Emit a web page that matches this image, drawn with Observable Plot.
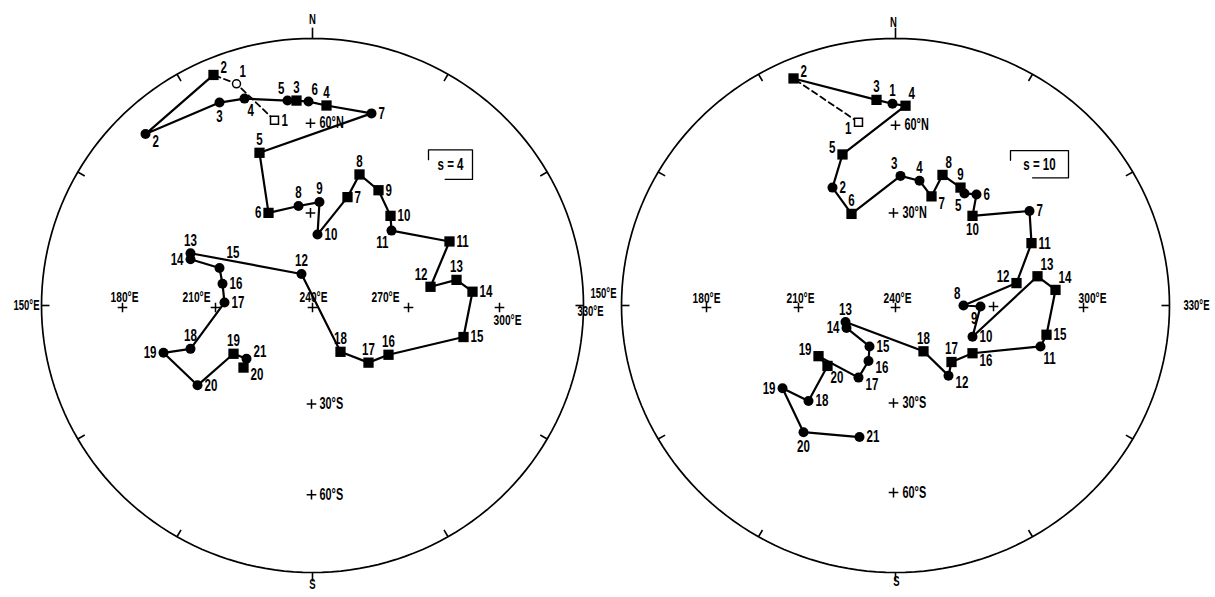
<!DOCTYPE html>
<html><head><meta charset="utf-8">
<script src="https://cdn.jsdelivr.net/npm/d3@7"></script>
<script src="https://cdn.jsdelivr.net/npm/@observablehq/plot@0.6"></script>
<style>
body{margin:0;background:#fff;}
#wrap{position:relative;width:1215px;height:597px;overflow:hidden;}
#wrap svg{position:absolute;left:0;top:0;}
</style></head><body><div id="wrap"></div>
<script>
// Net-plane coordinates of the poles (units ≈ px of the primitive circle, origin at net centre, north up)
// ---- left net (s = 4) ----
const leftShape = ["sq","ci","sq","ci","ci","ci","ci","sq","ci","sq","ci","sq","sq","ci","ci","ci","sq","sq","sq","sq","ci","sq","sq","sq","sq","sq","sq","sq","sq","ci","ci","ci","ci","ci","ci","ci","ci","ci","sq","ci","sq"];
const leftOpen  = [1,1,0,0,0,0,0,0,0,0,0,0,0,0,0,0,0,0,0,0,0,0,0,0,0,0,0,0,0,0,0,0,0,0,0,0,0,0,0,0,0];
const leftLabel = ["1","1","2","2","3","4","5","3","6","4","7","5","6","8","9","10","7","8","9","10","11","11","12","13","14","15","16","17","18","12","13","14","15","16","17","18","19","20","19","21","20"];
const leftPos   = ["e","ne","en","es","s","se","nw","n","ne","n","e","n","w","n","n","e","e","n","e","e","sw","e","nw","n","e","e","n","n","n","n","n","w","ne2","e","e","n","w","e","n","en","es"];
const leftU = [-38,-76,-99,-167,-93,-68,-25,-16,-4,14,59,-53,-44,-14,7,5,35,47,66,78,79,137,118,144,160,151,76,56,28,-11,-122,-122,-93,-90,-88,-122,-149,-115,-79,-66,-69];
const leftV = [188,225,234,174,206,210,208,208,207,203,195,155,94,101,105,72,110,133,117,91,76,65,19,26,14,-32,-50,-58,-47,32,53,47,38,22,3,-44,-48,-81,-49,-54,-63];
const leftDashedCount = 3;   // first points joined by a dashed line
const leftGridU = [-190,-97,0,96,187,-2,-2,-1,-1];
const leftGridV = [-2,-2,-2,-2,-2,185,94,-100,-192];
const leftLonText = ["180°E","210°E","240°E","270°E","300°E"];
const leftLonU = [-188,-116,1,73,195];
const leftLonV = [8,8,8,8,-15];
const leftLatText = ["60°N","30°S","60°S"];
const leftLatU = [7,7,7];
const leftLatV = [185,-100,-192];
const leftEdgeText = ["150°E","330°E","N","S"];
const leftEdgeU = [-286,278,0,0];
const leftEdgeV = [0,-6,290,-283];
const leftBox = {text:"s = 4", u1:116, u2:160, v1:128, v2:158};

// ---- right net (s = 10) ----
const rightShape = ["sq","sq","sq","ci","sq","sq","ci","sq","ci","ci","sq","sq","sq","ci","ci","sq","ci","sq","sq","ci","ci","ci","sq","sq","sq","ci","sq","sq","ci","sq","ci","ci","ci","ci","ci","sq","sq","ci","ci","ci","ci"];
const rightOpen  = [1,0,0,0,0,0,0,0,0,0,0,0,0,0,0,0,0,0,0,0,0,0,0,0,0,0,0,0,0,0,0,0,0,0,0,0,0,0,0,0,0];
const rightLabel = ["1","2","3","1","4","5","2","6","3","4","7","8","9","5","6","10","7","11","12","8","9","10","13","14","15","11","16","17","12","18","13","14","15","16","17","19","20","18","19","20","21"];
const rightPos   = ["ws","en","n","n","ne","wn","e","n","nw","n","es","ne","n","sw","e","s","e","e","wn","nw","sw","e","ne","ne","e","se","es","n","es","n","n","w","e","es","es","wn","se","e","w","s","e"];
const rightU = [-37,-102,-19,-3,10,-53,-63,-44,5,24,36,47,65,69,81,77,134,136,121,68,85,77,142,160,151,145,77,56,53,28,-50,-49,-26,-27,-37,-77,-68,-87,-113,-92,-36];
const rightV = [188,233,211,207,205,155,121,94,133,128,112,134,121,115,114,92,97,64,23,0,-1,-32,30,16,-30,-42,-49,-58,-72,-47,-17,-23,-42,-57,-74,-52,-62,-98,-85,-130,-135];
const rightDashedCount = 2;
const rightGridU = [-189,-97,0,98,188,0,-2,-2,-2];
const rightGridV = [-2,-2,-2,-1,-2,185,95,-100,-192];
const rightLonText = ["180°E","210°E","240°E","300°E"];
const rightLonU = [-189,-95,2,197];
const rightLonV = [8,8,8,8];
const rightLatText = ["60°N","30°N","30°S","60°S"];
const rightLatU = [9,7,7,7];
const rightLatV = [185,95,-100,-192];
const rightEdgeText = ["150°E","330°E","N","S"];
const rightEdgeU = [-292,301,-2,1];
const rightEdgeV = [12,0,290,-283];
const rightBox = {text:"s = 10", u1:115, u2:173, v1:131, v2:159};

const FONT = "'Liberation Sans',Arial,sans-serif";
const labelOffsets = {
  n:["middle",0,-13], s:["middle",0,14], e:["start",7,0], w:["end",-7,0],
  ne:["start",3,-12], nw:["end",-3,-12], se:["start",3,12], sw:["end",-3,12],
  en:["start",7,-7], es:["start",7,7], wn:["end",-7,-7], ws:["end",-7,6],
  ne2:["start",7,-16]
};

function net(cfg) {
  const pts = cfg.shape.map((s, i) => ({shape: s, open: cfg.open[i], label: cfg.label[i], pos: cfg.pos[i], u: cfg.u[i], v: cfg.v[i]}));
  const dashed = pts.slice(0, cfg.dashed);
  const solid = pts.slice(cfg.dashed - 1);
  const R = cfg.R;
  const rad = Math.PI / 180;
  const circle = d3.range(0, 362, 2).map(a => ({u: R * Math.sin(a * rad), v: R * Math.cos(a * rad)}));
  const ticks = d3.range(0, 360, 30).map(a => {
    const r2 = a === 0 ? R + 11 : a === 180 ? R + 9 : R - 8;
    return {u1: R * Math.sin(a * rad), v1: R * Math.cos(a * rad), u2: r2 * Math.sin(a * rad), v2: r2 * Math.cos(a * rad)};
  });
  const grid = cfg.gridU.map((u, i) => ({u, v: cfg.gridV[i]}));
  const lon = cfg.lonText.map((t, i) => ({t, u: cfg.lonU[i], v: cfg.lonV[i]}));
  const lat = cfg.latText.map((t, i) => ({t, u: cfg.latU[i], v: cfg.latV[i]}));
  const edge = cfg.edgeText.map((t, i) => ({t, u: cfg.edgeU[i], v: cfg.edgeV[i]}));
  const b = cfg.box, w = b.u2 - b.u1;
  // bracket-like frame: open at lower-left and with a short upper-left stub
  const frame = [
    {u: b.u1, v: b.v2 - 10}, {u: b.u1, v: b.v2}, {u: b.u2, v: b.v2}, {u: b.u2, v: b.v1}, {u: b.u1 + 0.38 * w, v: b.v1}
  ];
  const labelMarks = Object.entries(labelOffsets).map(([k, [anchor, dx, dy]]) =>
    Plot.text(pts.filter(d => d.pos === k), {x: "u", y: "v", text: "label", textAnchor: anchor, dx, dy,
      fontSize: 17, fontWeight: "bold", fontFamily: FONT, fill: "black"}));
  return Plot.plot({
    width: 1215, height: 597, margin: 0,
    style: {background: "transparent", overflow: "visible"},
    x: {domain: [-R, R], range: [cfg.cx - R, cfg.cx + R], axis: null},
    y: {domain: [-R, R], range: [cfg.cy + cfg.Ry, cfg.cy - cfg.Ry], axis: null},
    marks: [
      Plot.line(circle, {x: "u", y: "v", stroke: "black", strokeWidth: 1.7}),
      Plot.link(ticks, {x1: "u1", y1: "v1", x2: "u2", y2: "v2", stroke: "black", strokeWidth: 1.6}),
      Plot.dot(grid, {x: "u", y: "v", symbol: "plus", r: 3.2, stroke: "black", strokeWidth: 1.5}),
      Plot.text(lon, {x: "u", y: "v", text: "t", fontSize: 15, fontWeight: "bold", fontFamily: FONT, fill: "black"}),
      Plot.text(lat, {x: "u", y: "v", text: "t", textAnchor: "start", fontSize: 16, fontWeight: "bold", fontFamily: FONT, fill: "black"}),
      Plot.text(edge, {x: "u", y: "v", text: "t", fontSize: 14, fontWeight: "bold", fontFamily: FONT, fill: "black"}),
      Plot.line(frame, {x: "u", y: "v", stroke: "black", strokeWidth: 1.3, curve: "linear"}),
      Plot.text([b], {x: d => (d.u1 + d.u2) / 2, y: d => (d.v1 + d.v2) / 2, text: "text", fontSize: 17, fontWeight: "bold", fontFamily: FONT, fill: "black"}),
      Plot.line(dashed, {x: "u", y: "v", stroke: "black", strokeWidth: 1.8, strokeDasharray: "6,4"}),
      Plot.line(solid, {x: "u", y: "v", stroke: "black", strokeWidth: 2.2}),
      Plot.dot(pts.filter(d => !d.open && d.shape === "ci"), {x: "u", y: "v", symbol: "circle", r: 5, fill: "black"}),
      Plot.dot(pts.filter(d => !d.open && d.shape === "sq"), {x: "u", y: "v", symbol: "square", r: 5.8, fill: "black"}),
      Plot.dot(pts.filter(d => d.open && d.shape === "ci"), {x: "u", y: "v", symbol: "circle", r: 4, fill: "white", stroke: "black", strokeWidth: 1.5}),
      Plot.dot(pts.filter(d => d.open && d.shape === "sq"), {x: "u", y: "v", symbol: "square", r: 4.5, fill: "white", stroke: "black", strokeWidth: 1.5}),
      ...labelMarks
    ]
  });
}

const wrap = document.getElementById("wrap");
wrap.appendChild(net({cx: 312, cy: 305, R: 271, Ry: 267, shape: leftShape, open: leftOpen, label: leftLabel, pos: leftPos, u: leftU, v: leftV, dashed: leftDashedCount,
  gridU: leftGridU, gridV: leftGridV, lonText: leftLonText, lonU: leftLonU, lonV: leftLonV, latText: leftLatText, latU: leftLatU, latV: leftLatV,
  edgeText: leftEdgeText, edgeU: leftEdgeU, edgeV: leftEdgeV, box: leftBox}));
wrap.appendChild(net({cx: 895, cy: 305, R: 274, Ry: 267, shape: rightShape, open: rightOpen, label: rightLabel, pos: rightPos, u: rightU, v: rightV, dashed: rightDashedCount,
  gridU: rightGridU, gridV: rightGridV, lonText: rightLonText, lonU: rightLonU, lonV: rightLonV, latText: rightLatText, latU: rightLatU, latV: rightLatV,
  edgeText: rightEdgeText, edgeU: rightEdgeU, edgeV: rightEdgeV, box: rightBox}));

// condensed lettering like the original drawing: squeeze each label horizontally about its anchor point
wrap.querySelectorAll("text").forEach(t => {
  const tr = t.getAttribute("transform");
  if (tr) t.setAttribute("transform", tr + " scale(0.68,1)");
});
</script></body></html>
